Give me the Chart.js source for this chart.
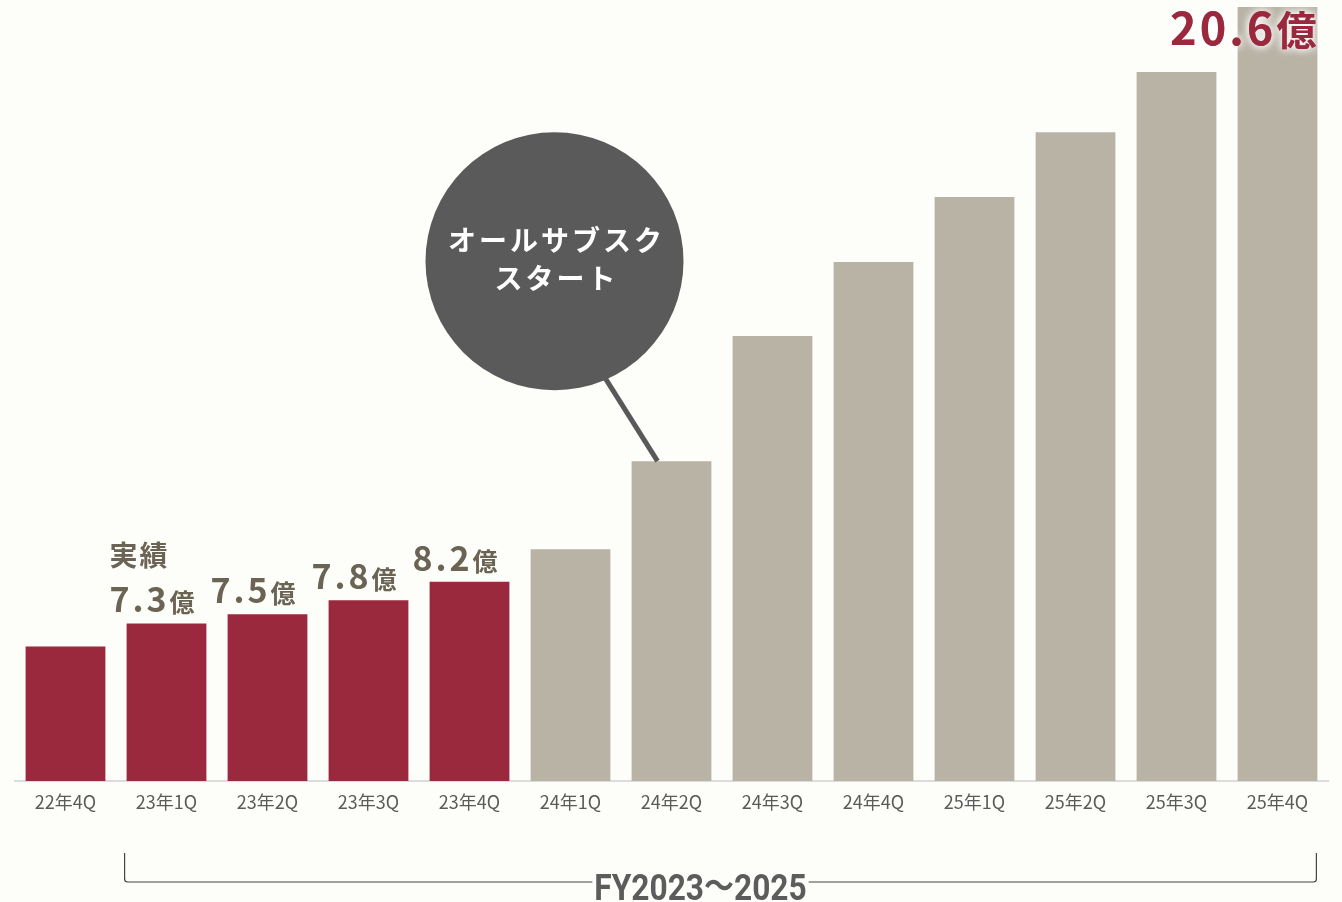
<!DOCTYPE html>
<html lang="ja">
<head>
    <meta charset="UTF-8">
    <title>売上推移</title>
    <script src="https://cdn.jsdelivr.net/npm/chart.js"></script>
    <style>
        html, body { margin: 0; padding: 0; background: #fdfdf9; }
        #chartContainer { width: 1342px; height: 902px; position: relative; }
    </style>
</head>
<body>
    <div id="chartContainer">
        <canvas id="salesChart"></canvas>
    </div>

    <script>
        // quarters on the x axis
        const quarters = ["22年4Q", "23年1Q", "23年2Q", "23年3Q", "23年4Q", "24年1Q", "24年2Q",
                          "24年3Q", "24年4Q", "25年1Q", "25年2Q", "25年3Q", "25年4Q"];
        // values in 億
        const values = [6.8, 7.3, 7.5, 7.8, 8.2, 8.9, 10.8, 13.5, 15.1, 16.5, 17.9, 19.2, 20.6];
        // first 5 are actuals, the rest is forecast
        const actualCount = 5;
        // bars that get a value label
        const labelledIdx = [1, 2, 3, 4];
        const lastIdx = 12;
        const calloutIdx = 6;
        const calloutLines = ["オールサブスク", "スタート"];
        const actualLabel = "実績";
        const rangeParts = ["FY2023", "～", "2025"];
        const rangeFrom = 1, rangeTo = 12;

        const RED = "#9a293d";
        const GRAY = "#b9b3a6";
        const LABEL = "#6b6454";
        const JP = '"Noto Sans CJK JP", "Noto Sans", sans-serif';

        const barColors = values.map((_, i) => i < actualCount ? RED : GRAY);

        function drawValue(ctx, x, y, numTxt, numSize, unitSize, color, align, spacing) {
            ctx.save();
            ctx.fillStyle = color;
            ctx.textBaseline = "alphabetic";
            ctx.letterSpacing = spacing + "px";
            ctx.font = "700 " + numSize + "px " + JP;
            const w1 = ctx.measureText(numTxt).width;
            ctx.font = "700 " + unitSize + "px " + JP;
            const w2 = ctx.measureText("億").width;
            let start = align === "right" ? x - w1 - w2 : x - (w1 + w2) / 2;
            ctx.font = "700 " + numSize + "px " + JP;
            ctx.fillText(numTxt, start, y);
            ctx.font = "700 " + unitSize + "px " + JP;
            ctx.fillText("億", start + w1, y);
            ctx.restore();
        }

        const annotations = {
            id: "annotations",
            afterDatasetsDraw(chart) {
                const ctx = chart.ctx;
                const bars = chart.getDatasetMeta(0).data;

                // value labels over the actual bars
                labelledIdx.forEach(i => {
                    const b = bars[i];
                    drawValue(ctx, b.x - 13, b.y - 11, values[i].toFixed(1), 34, 25, LABEL, "center", 3);
                });

                // 実績
                const b1 = bars[labelledIdx[0]];
                ctx.save();
                ctx.fillStyle = LABEL;
                ctx.font = "700 28px " + JP;
                ctx.letterSpacing = "2px";
                ctx.textAlign = "left";
                ctx.fillText(actualLabel, b1.x - b1.width / 2 - 17, b1.y - 57);
                ctx.restore();

                // last bar label with white glow
                const bl = bars[lastIdx];
                ctx.save();
                ctx.shadowColor = "rgba(255,255,255,1)";
                ctx.shadowBlur = 8;
                for (let k = 0; k < 2; k++) {
                    drawValue(ctx, bl.x + bl.width / 2 + 2, bl.y + 38, values[lastIdx].toFixed(1), 45, 40, RED, "right", 3);
                }
                ctx.restore();

                // callout bubble
                const bc = bars[calloutIdx];
                const ex = bc.x - 14, ey = bc.y;
                const cx = ex - 103, cy = ey - 200, r = 129;
                ctx.save();
                ctx.strokeStyle = "#595959";
                ctx.lineWidth = 5;
                ctx.beginPath();
                ctx.moveTo(cx + 40, cy + 100);
                ctx.lineTo(ex, ey);
                ctx.stroke();
                ctx.fillStyle = "#5a5a5a";
                ctx.beginPath();
                ctx.arc(cx, cy, r, 0, Math.PI * 2);
                ctx.fill();
                ctx.fillStyle = "#ffffff";
                ctx.font = "700 28px " + JP;
                ctx.textAlign = "center";
                ctx.textBaseline = "middle";
                ctx.letterSpacing = "3px";
                ctx.fillText(calloutLines[0], cx + 2, cy - 21);
                ctx.fillText(calloutLines[1], cx + 2, cy + 17);
                ctx.restore();

                // FY bracket
                const bf = bars[rangeFrom], bt = bars[rangeTo];
                const xl = bf.x - bf.width / 2 - 2, xr = bt.x + bt.width / 2 - 1;
                const yTop = 853, yBot = 882;
                ctx.save();
                ctx.strokeStyle = "#444";
                ctx.lineWidth = 1.2;
                ctx.beginPath();
                ctx.moveTo(xl, yTop);
                ctx.lineTo(xl, yBot - 3);
                ctx.quadraticCurveTo(xl, yBot, xl + 3, yBot);
                ctx.lineTo(xr - 3, yBot);
                ctx.quadraticCurveTo(xr, yBot, xr, yBot - 3);
                ctx.lineTo(xr, yTop);
                ctx.stroke();

                // label, a bit condensed, sitting on the line
                const fonts = ["700 36px Roboto, sans-serif", "700 34px " + JP, "700 36px Roboto, sans-serif"];
                const sx = 0.88;
                const widths = rangeParts.map((t, i) => { ctx.font = fonts[i]; return ctx.measureText(t).width * sx; });
                const total = widths.reduce((a, b) => a + b, 0);
                const mid = (xl + xr) / 2 - 20;
                let x0 = mid - total / 2;
                ctx.fillStyle = "#fdfdf9";
                ctx.fillRect(x0 - 2, yBot - 3, total + 4, 6);
                ctx.fillStyle = "#5c5c5c";
                ctx.textAlign = "left";
                ctx.textBaseline = "alphabetic";
                rangeParts.forEach((t, i) => {
                    ctx.save();
                    ctx.translate(x0, 900);
                    ctx.scale(sx, 1);
                    ctx.font = fonts[i];
                    ctx.fillText(t, 0, i === 1 ? -2 : 0);
                    ctx.restore();
                    x0 += widths[i];
                });
                ctx.restore();
            }
        };

        const ctx = document.getElementById("salesChart").getContext("2d");
        new Chart(ctx, {
            type: "bar",
            data: {
                labels: quarters,
                datasets: [{
                    data: values,
                    backgroundColor: barColors,
                    borderWidth: 0,
                    barPercentage: 0.79,
                    categoryPercentage: 1.0
                }]
            },
            options: {
                responsive: true,
                maintainAspectRatio: false,
                animation: false,
                layout: { padding: { top: 7, left: 15, right: 14, bottom: 0 } },
                plugins: { legend: { display: false }, tooltip: { enabled: false } },
                scales: {
                    x: {
                        grid: { display: false, drawTicks: false },
                        border: { display: true, color: "#dcdcdc", width: 2 },
                        ticks: {
                            color: "#5a5a5a",
                            padding: 10,
                            font: { family: "Noto Sans CJK JP", size: 18, weight: 400 }
                        },
                        afterFit(scale) { scale.height = 121; }
                    },
                    y: {
                        display: false,
                        min: 3.9,
                        max: 20.6
                    }
                }
            },
            plugins: [annotations]
        });
    </script>
</body>
</html>
